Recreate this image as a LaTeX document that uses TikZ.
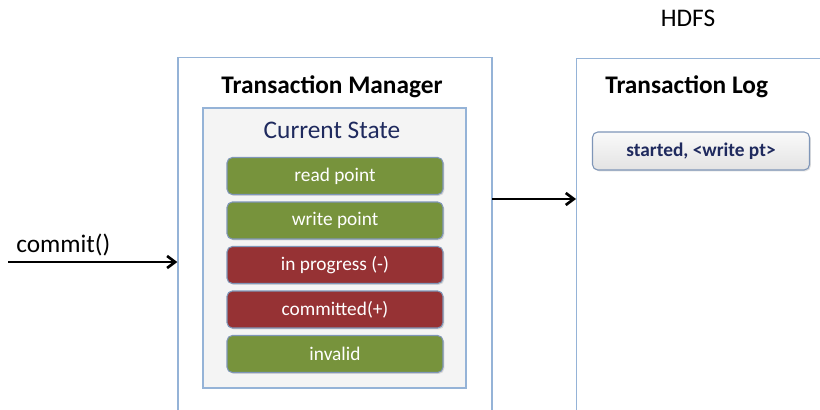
\documentclass[tikz,border=0pt]{standalone}
\usepackage{fontspec}
\setmainfont{Carlito}
\usepackage{tikz}
\usetikzlibrary{shadows,arrows.meta}
\definecolor{boxblue}{HTML}{95B3D7}
\definecolor{barline}{HTML}{7F96B8}
\definecolor{olive}{HTML}{77933C}
\definecolor{brick}{HTML}{963234}
\definecolor{navy}{HTML}{1F2A5E}

\begin{document}
\begin{tikzpicture}[x=0.75pt,y=0.75pt,yscale=-1,xscale=1,
  outerbox/.style={draw=boxblue,line width=1pt,fill=white,inner sep=0pt},
  statebox/.style={draw=boxblue,line width=1pt,fill=gray!9,inner sep=0pt,
    drop shadow={opacity=0.2,shadow xshift=1pt,shadow yshift=-1pt}},
  bar/.style={draw=barline,line width=0.8pt,rounded corners=4pt,text=white,
    minimum width=162pt,minimum height=27.75pt,inner sep=0pt,font=\fontsize{14.5}{16}\selectfont,
    drop shadow={opacity=0.25,shadow xshift=1pt,shadow yshift=-1pt}},
  logbar/.style={draw=barline,line width=0.8pt,rounded corners=4pt,text=navy,
    top color=gray!4,bottom color=gray!22,
    minimum width=162.75pt,minimum height=28.5pt,inner sep=0pt,font=\fontsize{14.5}{16}\selectfont\bfseries,
    drop shadow={opacity=0.25,shadow xshift=1pt,shadow yshift=-1pt}},
  title/.style={font=\fontsize{19}{22}\selectfont\bfseries,inner sep=0.75pt},
  plain/.style={font=\fontsize{19}{22}\selectfont,inner sep=0.75pt},
  arr/.style={-{Straight Barb[length=6pt,width=9pt]},line width=2pt,black}]
\clip (0,0) rectangle (820,410);

%Shape: Rectangle [Transaction Manager]
\node[outerbox,anchor=north,minimum width=235.5pt,minimum height=300pt] (mgr) at (335,57) {};
%Shape: Rectangle [Transaction Log]
\node[outerbox,anchor=north west,minimum width=220pt,minimum height=300pt] (log) at (576,58) {};
%Shape: Rectangle [Current State]
\node[statebox,minimum width=197.25pt,minimum height=210pt] (state) at (334.5,248) {};

% Text Node
\node[plain] (hdfs) at (688,18) {HDFS};
% Text Node
\node[title] (mgrtitle) at (332,87) {Transaction Manager};
% Text Node
\node[title,anchor=west] (logtitle) at (604,87) {Transaction Log};
% Text Node
\node[plain,text=navy] (statetitle) at (332,130) {Current State};
% Text Node
\node[plain,anchor=west] (committxt) at (15,245) {commit()};

%Shape: Rounded Rectangles
\foreach \name/\txt/\col [count=\i] in {rp/read point/olive,wp/write point/olive,ip/in progress (-)/brick,cm/committed(+)/brick,inv/invalid/olive}
  \node[bar,fill=\col] (\name) at (335,{176+44.5*(\i-1)}) {\txt};
\node[logbar] (started) at (701,151) {started, <write pt>};

%Straight Lines
\coordinate (src) at (8,262);
\draw[arr] (src) -- (src -| mgr.west);
\coordinate (out) at (492,199);
\draw[arr] (out) -- (out -| log.west);

\end{tikzpicture}
\end{document}
